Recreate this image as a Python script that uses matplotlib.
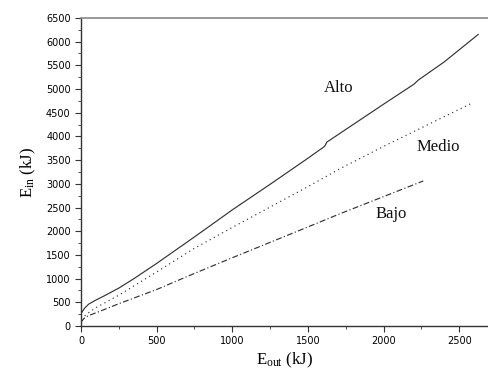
import numpy as np
import matplotlib
matplotlib.use("Agg")
import matplotlib.pyplot as plt
from matplotlib.ticker import MultipleLocator

plt.rcParams['mathtext.fontset'] = 'custom'
plt.rcParams['mathtext.rm'] = 'Liberation Serif'
plt.rcParams['mathtext.it'] = 'Liberation Serif:italic'

# energy curves (E_out, E_in in kJ)
alto_x = [0, 25, 50, 100, 150, 250, 350, 500, 750, 1000, 1250, 1500, 1610, 1625,
          2000, 2200, 2230, 2400, 2625]
alto_y = [265, 380, 460, 550, 630, 800, 1000, 1320, 1880, 2450, 2990, 3540, 3790, 3880,
          4680, 5100, 5190, 5570, 6150]

medio_x = [0, 50, 100, 250, 500, 750, 1000, 1500, 1713, 2000, 2586]
medio_y = [150, 280, 390, 650, 1140, 1640, 2080, 2940, 3320, 3790, 4706]

bajo_x = [0, 20, 50, 100, 250, 500, 750, 1000, 1500, 1713, 2000, 2262]
bajo_y = [80, 160, 220, 280, 470, 770, 1110, 1440, 2090, 2370, 2730, 3060]

labels = ["Alto", "Medio", "Bajo"]
label_x = [1706, 2361, 2050]
label_y = [5023, 3779, 2364]

fig = plt.figure(figsize=(4.88, 3.73), dpi=100)
ax = fig.add_axes([0.166, 0.126, 0.834, 0.826])

c = '#333333'
ax.plot(alto_x, alto_y, color=c, lw=0.85, ls='-')
ax.plot(medio_x, medio_y, color=c, lw=0.85, ls=(0, (1, 3)))
ax.plot(bajo_x, bajo_y, color=c, lw=0.85, ls=(0, (5, 2, 1, 2)))

for t, x, y in zip(labels, label_x, label_y):
    ax.text(x, y, t, family='Liberation Serif', fontsize=12, ha='center',
            va='center', color='#111111')

ax.set_xlim(0, 2690)
ax.set_ylim(0, 6500)
ax.xaxis.set_major_locator(MultipleLocator(500))
ax.xaxis.set_minor_locator(MultipleLocator(250))
ax.yaxis.set_major_locator(MultipleLocator(500))
ax.yaxis.set_minor_locator(MultipleLocator(250))

ax.spines['right'].set_visible(False)
ax.spines['top'].set_color('#888888')
ax.spines['top'].set_linewidth(1.2)
for s in ['left', 'bottom']:
    ax.spines[s].set_color('#333333')
    ax.spines[s].set_linewidth(1.0)

ax.tick_params(which='major', direction='out', length=4, width=0.8,
               color='#333333', labelsize=7, top=False, right=False)
ax.tick_params(which='minor', direction='out', length=2, width=0.6,
               color='#333333', top=False, right=False)
for lab in ax.get_xticklabels() + ax.get_yticklabels():
    lab.set_family('DejaVu Sans')

ax.set_xlabel(r'$\mathrm{E_{out}}$ (kJ)', family='Liberation Serif', fontsize=12,
              labelpad=3)
ax.set_ylabel(r'$\mathrm{E_{in}}$ (kJ)', family='Liberation Serif', fontsize=12,
              labelpad=6)

fig.savefig("out.png", dpi=100)
